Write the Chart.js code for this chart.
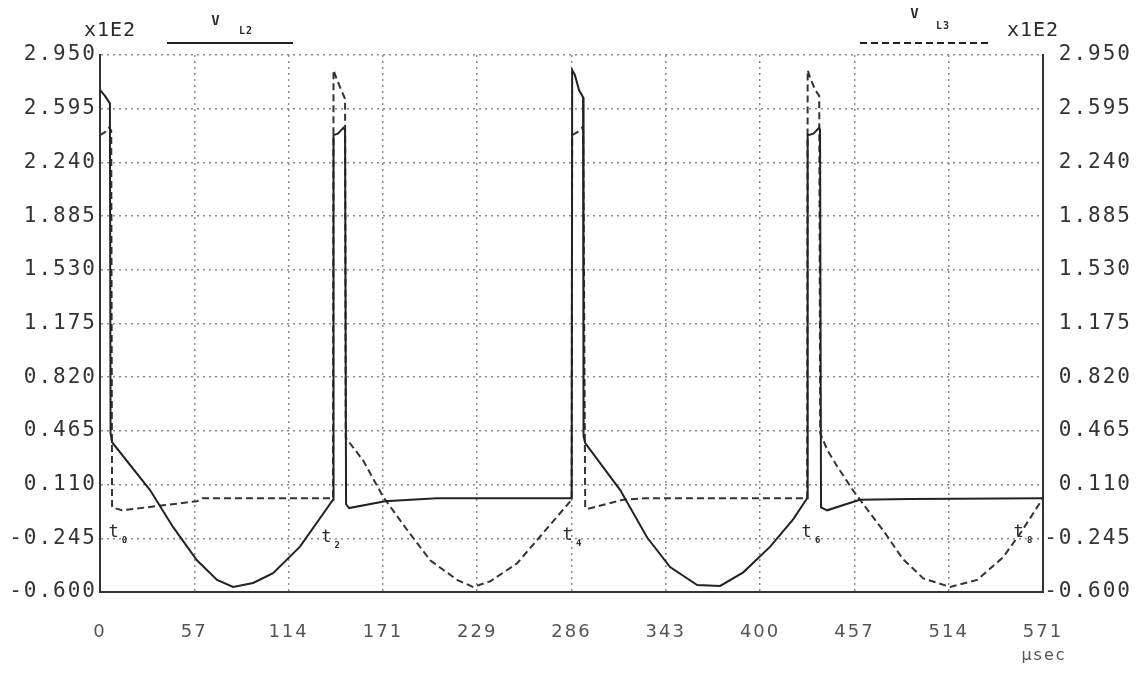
<!DOCTYPE html>
<html lang="th">

<head>
    <meta charset="UTF-8">
    <title>VL2 / VL3</title>
    <style>
        html, body { margin: 0; padding: 0; background: #fff; }
        #grafico { display: block; }
    </style>
</head>

<body>
    <canvas id="grafico" width="1144" height="679"></canvas>

    <script src="https://cdn.jsdelivr.net/npm/chart.js"></script>
    <script>
        // tempo em µsec, tensão em x1E2
        const tempoTicks = [0, 57.1, 114.2, 171.3, 228.4, 285.5, 342.6, 399.7, 456.8, 513.9, 571];
        const tempoLabels = ['0', '57', '114', '171', '229', '286', '343', '400', '457', '514', '571'];
        const tensaoTicks = [-0.600, -0.245, 0.110, 0.465, 0.820, 1.175, 1.530, 1.885, 2.240, 2.595, 2.950];
        const tensaoLabels = ['-0.600', '-0.245', '0.110', '0.465', '0.820', '1.175', '1.530', '1.885', '2.240', '2.595', '2.950'];

        // V L2 (linha cheia)
        const vL2Tempo = [0, 0.5, 3, 6, 6.4, 7.3, 30.3, 44.2, 58.7, 70.9, 80.6, 92.7, 104.8, 121.1, 141.1,
            141.4, 144, 147.5, 148.4, 149, 150.8, 172.6, 204, 285.6,
            285.9, 287.5, 290, 292.5, 292.8, 293.8, 315, 331.3, 345.2, 361.6, 375.5, 389.5, 405.8, 419.7, 428.2,
            428.5, 432, 435.5, 436, 436.6, 440.3, 460, 490, 571];
        const vL2 = [2.72, 2.72, 2.68, 2.63, 0.45, 0.39, 0.074, -0.17, -0.39, -0.52, -0.567, -0.54, -0.475, -0.30, 0.01,
            2.42, 2.43, 2.47, 2.45, -0.02, -0.045, 0.0, 0.02, 0.02,
            2.85, 2.82, 2.72, 2.67, 0.43, 0.385, 0.074, -0.24, -0.435, -0.554, -0.56, -0.47, -0.30, -0.12, 0.02,
            2.42, 2.43, 2.47, 2.45, -0.04, -0.06, 0.01, 0.015, 0.02];

        // V L3 (tracejada)
        const vL3Tempo = [0, 3, 5.5, 6.8, 7.3, 13.3, 58.7, 62, 141.1,
            141.4, 143, 146, 148.4, 148.8, 150.2, 159.3, 171.4, 186, 199.9, 216.2, 225.9, 236.2, 252.6, 268.3, 285.6,
            285.9, 289, 292, 292.6, 293.8, 295.6, 316.8, 330, 428.2,
            428.5, 430, 433, 435.5, 436.1, 440.3, 446.4, 456.1, 466.4, 476, 486, 498.5, 514.8, 531.2, 546.9, 558, 571];
        const vL3 = [2.42, 2.44, 2.47, 2.45, -0.04, -0.06, 0.0, 0.02, 0.02,
            2.85, 2.80, 2.72, 2.66, 0.42, 0.40, 0.27, 0.03, -0.19, -0.39, -0.52, -0.567, -0.53, -0.41, -0.21, 0.01,
            2.42, 2.44, 2.47, 2.45, -0.045, -0.05, 0.01, 0.02, 0.02,
            2.85, 2.80, 2.72, 2.68, 0.45, 0.34, 0.23, 0.07, -0.08, -0.22, -0.38, -0.51, -0.567, -0.52, -0.37, -0.2, 0.02];

        // marcas t0..t8 embaixo das curvas
        const marcasNome = ['0', '2', '4', '6', '8'];
        const marcasTempo = [8.5, 137.3, 283.5, 428.2, 556.6];
        const marcasTensao = [-0.21, -0.24, -0.23, -0.21, -0.21];

        const MONO = '"DejaVu Sans Mono", monospace';
        const SANS = '"DejaVu Sans", sans-serif';

        const anotacoes = {
            id: 'anotacoes',
            beforeUpdate(chart) {
                chart.ctx.letterSpacing = '2px';
            },
            beforeDraw(chart) {
                const ctx = chart.ctx;
                ctx.save();
                ctx.fillStyle = '#fff';
                ctx.fillRect(0, 0, chart.width, chart.height);
                ctx.restore();
                ctx.letterSpacing = '2px';
            },
            afterDraw(chart) {
                const { ctx, scales: { x, y } } = chart;
                ctx.save();
                ctx.letterSpacing = '1px';
                ctx.fillStyle = '#2a2a2a';
                ctx.textBaseline = 'middle';
                ctx.textAlign = 'center';

                // x1E2 dos dois lados
                ctx.font = '20px ' + MONO;
                ctx.fillText('x1E2', 110, 31);
                ctx.fillText('x1E2', 1033, 31);

                // legenda
                ctx.font = 'bold 14px ' + MONO;
                ctx.fillText('V', 216, 21);
                ctx.fillText('V', 915, 14);
                ctx.font = 'bold 10px ' + MONO;
                ctx.fillText('L2', 246, 31);
                ctx.fillText('L3', 943, 26);

                ctx.strokeStyle = '#222';
                ctx.lineWidth = 2;
                ctx.beginPath();
                ctx.moveTo(167, 43);
                ctx.lineTo(293, 43);
                ctx.stroke();
                ctx.setLineDash([7, 4]);
                ctx.beginPath();
                ctx.moveTo(860, 43);
                ctx.lineTo(988, 43);
                ctx.stroke();
                ctx.setLineDash([]);

                // t0 .. t8
                marcasTempo.forEach((t, i) => {
                    const px = x.getPixelForValue(t);
                    const py = y.getPixelForValue(marcasTensao[i]);
                    ctx.font = '17px ' + MONO;
                    ctx.fillText('t', px, py);
                    ctx.font = 'bold 9px ' + MONO;
                    ctx.fillText(marcasNome[i], px + 11, py + 8);
                });

                // unidade do eixo x
                ctx.fillStyle = '#555';
                ctx.font = '16px ' + SANS;
                ctx.letterSpacing = '2px';
                ctx.fillText('µsec', 1044, 656);
                ctx.restore();
            }
        };

        const gradeTensao = scale => {
            scale.ticks = tensaoTicks.map(v => ({ value: v }));
        };

        const ctx = document.getElementById('grafico');

        new Chart(ctx, {
            type: 'line',
            data: {
                datasets: [
                    {
                        label: 'V L2',
                        data: vL2Tempo.map((t, i) => ({ x: t, y: vL2[i] })),
                        borderColor: '#222',
                        borderWidth: 2,
                        pointRadius: 0,
                        tension: 0,
                        yAxisID: 'y'
                    },
                    {
                        label: 'V L3',
                        data: vL3Tempo.map((t, i) => ({ x: t, y: vL3[i] })),
                        borderColor: '#333',
                        borderWidth: 2,
                        borderDash: [7, 4],
                        pointRadius: 0,
                        tension: 0,
                        yAxisID: 'y'
                    }
                ]
            },
            options: {
                responsive: false,
                animation: false,
                devicePixelRatio: 1,
                layout: { padding: { top: 55, left: 0, right: 12, bottom: 0 } },
                plugins: {
                    legend: { display: false },
                    tooltip: { enabled: false }
                },
                scales: {
                    x: {
                        type: 'linear',
                        min: 0,
                        max: 571,
                        afterBuildTicks: scale => {
                            scale.ticks = tempoTicks.map(v => ({ value: v }));
                        },
                        afterFit: scale => { scale.height = 87; },
                        ticks: {
                            autoSkip: false,
                            maxRotation: 0,
                            padding: 30,
                            color: '#555',
                            font: { family: SANS, size: 18 },
                            callback: (v, i) => tempoLabels[i]
                        },
                        grid: {
                            color: '#8c8c8c',
                            lineWidth: 1.5,
                            drawTicks: false
                        },
                        border: { display: true, color: '#333', width: 2, dash: [2, 4] }
                    },
                    y: {
                        position: 'left',
                        min: -0.6,
                        max: 2.95,
                        afterBuildTicks: gradeTensao,
                        afterFit: scale => { scale.width = 100; },
                        ticks: {
                            autoSkip: false,
                            padding: 3,
                            color: '#333',
                            font: { family: MONO, size: 21 },
                            callback: (v, i) => tensaoLabels[i]
                        },
                        grid: {
                            color: '#8c8c8c',
                            lineWidth: 1.5,
                            drawTicks: false
                        },
                        border: { display: true, color: '#333', width: 2, dash: [2, 4] }
                    },
                    y2: {
                        position: 'right',
                        min: -0.6,
                        max: 2.95,
                        afterBuildTicks: gradeTensao,
                        afterFit: scale => { scale.width = 89; },
                        ticks: {
                            autoSkip: false,
                            padding: 2,
                            crossAlign: 'far',
                            color: '#333',
                            font: { family: MONO, size: 21 },
                            callback: (v, i) => tensaoLabels[i]
                        },
                        grid: { display: false, drawTicks: false },
                        border: { display: true, color: '#333', width: 2 }
                    }
                }
            },
            plugins: [anotacoes]
        });
    </script>
</body>

</html>
